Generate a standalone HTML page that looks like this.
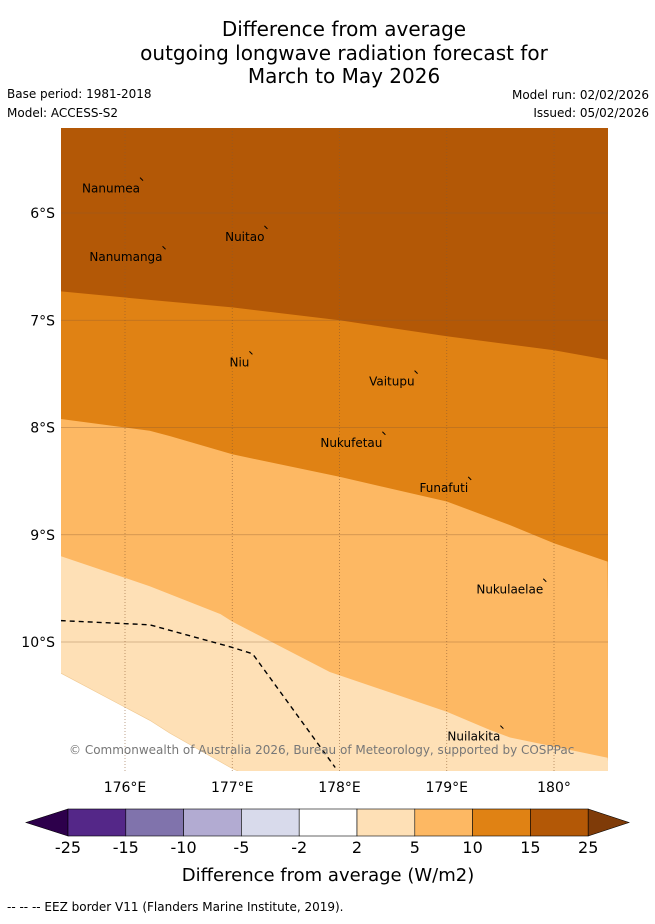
<!DOCTYPE html>
<html><head><meta charset="utf-8">
<style>
body{margin:0;background:#fff;font-family:"Liberation Sans","DejaVu Sans",sans-serif;}
svg text{font-family:"DejaVu Sans","Liberation Sans",sans-serif;}
</style></head>
<body>
<svg id="chart" width="655" height="919" viewBox="0 0 655 919" xmlns="http://www.w3.org/2000/svg">
<g font-size="20" text-anchor="middle" fill="#000">
<text x="344" y="36">Difference from average</text>
<text x="344" y="60">outgoing longwave radiation forecast for</text>
<text x="344" y="83">March to May 2026</text>
</g>
<text x="7" y="98" font-size="12">Base period: 1981-2018</text>
<text x="7" y="117" font-size="12">Model: ACCESS-S2</text>
<text x="649" y="99" font-size="12" text-anchor="end">Model run: 02/02/2026</text>
<text x="649" y="117" font-size="12" text-anchor="end">Issued: 05/02/2026</text>
<defs><clipPath id="mapclip"><rect x="61" y="128" width="547" height="643"/></clipPath></defs>
<g id="map" clip-path="url(#mapclip)"></g>
<g id="axes"></g>
<g id="cbar"></g>
<text x="328" y="881" font-size="18" text-anchor="middle">Difference from average (W/m2)</text>
<text x="7" y="911" font-size="12">--  --  -- EEZ border V11 (Flanders Marine Institute, 2019).</text>
</svg>
<script>
const lonTicks=[176,177,178,179,180];
const lonLabels=["176°E","177°E","178°E","179°E","180°"];
const latTicks=[6,7,8,9,10];
const latLabels=["6°S","7°S","8°S","9°S","10°S"];
const b1Lon=[175.40,176.23,177.0,178.0,179.0,180.0,180.5];
const b1Lat=[6.73,6.81,6.88,7.0,7.15,7.28,7.37];
const b2Lon=[175.40,176.23,176.42,177.0,178.0,179.0,179.59,180.0,180.5];
const b2Lat=[7.92,8.03,8.08,8.25,8.46,8.69,8.91,9.08,9.25];
const b3Lon=[175.40,176.23,176.89,177.0,177.91,179.0,179.40,179.59,180.5];
const b3Lat=[9.20,9.48,9.74,9.81,10.28,10.65,10.82,10.89,11.08];
const b4Lon=[175.40,176.23,176.42,177.0,177.07];
const b4Lat=[10.29,10.73,10.85,11.18,11.21];
const eezLon=[175.40,176.23,177.0,177.19,177.96];
const eezLat=[9.80,9.84,10.05,10.11,11.17];
const islandNames=["Nanumea","Nuitao","Nanumanga","Niu","Vaitupu","Nukufetau","Funafuti","Nukulaelae","Nuilakita"];
const islandLon=[176.14,177.30,176.35,177.16,178.70,178.40,179.20,179.90,179.50];
const islandLat=[5.67,6.12,6.31,7.29,7.47,8.04,8.46,9.41,10.78];
const cbBounds=["-25","-15","-10","-5","-2","2","5","10","15","25"];
const cbColors=["#542788","#8073ac","#b2abd2","#d8daeb","#ffffff","#fee0b6","#fdb863","#e08214","#b35806"];

const X=lon=>125+(lon-176)*107.25;
const Y=lat=>213+(lat-6)*107.25;
const NS="http://www.w3.org/2000/svg";
function mk(tag,attrs,parent){const e=document.createElementNS(NS,tag);for(const k in attrs)e.setAttribute(k,attrs[k]);parent.appendChild(e);return e;}
const mapG=document.getElementById('map'),axesG=document.getElementById('axes'),cbarG=document.getElementById('cbar');
function pts(lo,la){return lo.map((v,i)=>X(v).toFixed(1)+','+Y(la[i]).toFixed(1));}
const topBand=mk('rect',{x:61,y:128,width:547,height:643,fill:'#b35806'},mapG);


const below=[[b1Lon,b1Lat,'#e08214','band-10-15'],[b2Lon,b2Lat,'#fdb863','band-5-10'],[b3Lon,b3Lat,'#fee0b6','band-2-5'],[b4Lon,b4Lat,'#ffffff','band-neutral']];
below.forEach(b=>{
  const p=pts(b[0],b[1]);
  const lastX=X(b[0][b[0].length-1]);
  const poly=p.join(' ')+' '+(lastX+2)+',775 58,775';
  const e=mk('polygon',{points:poly,fill:b[2],stroke:b[2]==='#ffffff'?'#f0c890':'none','stroke-width':0.6},mapG);
  
  
});
lonTicks.forEach((v,i)=>{
  const l=mk('line',{x1:X(v),y1:128,x2:X(v),y2:771,stroke:'#8a5a30','stroke-width':0.8,'stroke-dasharray':'1,2',opacity:0.7},mapG);
  
  
  const t=mk('text',{x:X(v),y:792,'font-size':14,'text-anchor':'middle'},axesG);t.textContent=lonLabels[i];
  
  
});
latTicks.forEach((v,i)=>{
  const l=mk('line',{x1:61,y1:Y(v),x2:608,y2:Y(v),stroke:'#8a5a30','stroke-width':0.8,opacity:0.45},mapG);
  
  
  const t=mk('text',{x:55,y:Y(v)+5,'font-size':14,'text-anchor':'end'},axesG);t.textContent=latLabels[i];
  
  
});
const eez=mk('polyline',{points:pts(eezLon,eezLat).join(' '),fill:'none',stroke:'#000','stroke-width':1.4,'stroke-dasharray':'5,4'},mapG);


islandNames.forEach((n,i)=>{
  const x=X(islandLon[i]),y=Y(islandLat[i]);
  const m=mk('line',{x1:x,y1:y,x2:x+3,y2:y+3,stroke:'#000','stroke-width':1},mapG);
  
  
  const t=mk('text',{x:x,y:y+15,'font-size':12,'text-anchor':'end'},mapG);t.textContent=n;
  
  
});
const cp=mk('text',{x:69,y:754,'font-size':12,fill:'#777'},mapG);
cp.textContent='© Commonwealth of Australia 2026, Bureau of Meteorology, supported by COSPPac';


const cx0=68,cw=57.8,cy=809,ch=27;
const lt=mk('polygon',{points:`${cx0},${cy} ${cx0},${cy+ch} 26,${cy+ch/2}`,fill:'#2d004b',stroke:'#000','stroke-width':0.6},cbarG);


cbColors.forEach((c,i)=>{
  const r=mk('rect',{x:cx0+i*cw,y:cy,width:cw,height:ch,fill:c,stroke:'#000','stroke-width':0.6},cbarG);
  
  
});
const xe=cx0+cbColors.length*cw;
const rt=mk('polygon',{points:`${xe},${cy} ${xe},${cy+ch} 629,${cy+ch/2}`,fill:'#7f3b08',stroke:'#000','stroke-width':0.6},cbarG);


cbBounds.forEach((b,i)=>{
  const t=mk('text',{x:cx0+i*cw,y:853,'font-size':16,'text-anchor':'middle'},cbarG);t.textContent=b;
  
  
});
</script>
</body></html>
